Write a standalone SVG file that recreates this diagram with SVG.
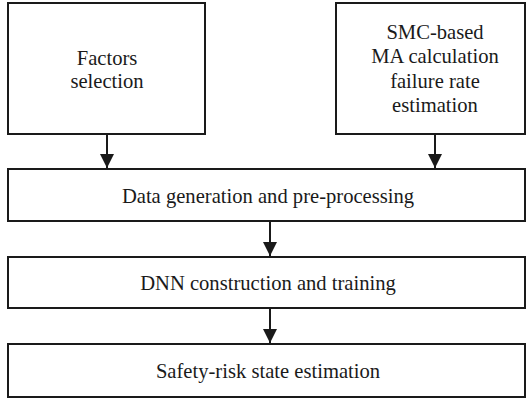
<svg xmlns="http://www.w3.org/2000/svg" width="527" height="399" viewBox="0 0 527 399">
<style>
.box{fill:#fff;stroke:#1a1a1a;stroke-width:2}
.t{font-family:'Liberation Serif','DejaVu Serif',serif;font-size:20.6px;fill:#1a1a1a;text-anchor:middle}
.c{stroke:#1a1a1a;stroke-width:2;fill:none}
</style>
<defs>
<marker id="ah" markerUnits="userSpaceOnUse" markerWidth="14" markerHeight="14" refX="14" refY="7" orient="auto">
<path d="M0,0 L14,7 L0,14 Z" fill="#1a1a1a"/>
</marker>
</defs>
<rect width="527" height="399" fill="#fff"/>
<g id="n1"><rect class="box" x="8" y="3" width="197" height="131"/>
<text class="t" x="107" y="65">Factors</text><text class="t" x="107" y="88">selection</text></g>
<g id="n2"><rect class="box" x="336" y="3" width="189" height="131"/>
<text class="t" x="435" y="39">SMC-based</text><text class="t" x="435" y="63">MA calculation</text><text class="t" x="435" y="88">failure rate</text><text class="t" x="435" y="112">estimation</text></g>
<g id="n3"><rect class="box" x="8" y="169" width="517" height="52"/>
<text class="t" x="268" y="203">Data generation and pre-processing</text></g>
<g id="n4"><rect class="box" x="8" y="257" width="517" height="51"/>
<text class="t" x="268" y="290">DNN construction and training</text></g>
<g id="n5"><rect class="box" x="8" y="344" width="517" height="53"/>
<text class="t" x="268" y="378">Safety-risk state estimation</text></g>
<g id="connectors">
<line class="c" x1="107" y1="134" x2="107" y2="168" marker-end="url(#ah)"/>
<line class="c" x1="435" y1="134" x2="435" y2="168" marker-end="url(#ah)"/>
<line class="c" x1="270" y1="221" x2="270" y2="256" marker-end="url(#ah)"/>
<line class="c" x1="270" y1="308" x2="270" y2="343" marker-end="url(#ah)"/>
</g>
</svg>
